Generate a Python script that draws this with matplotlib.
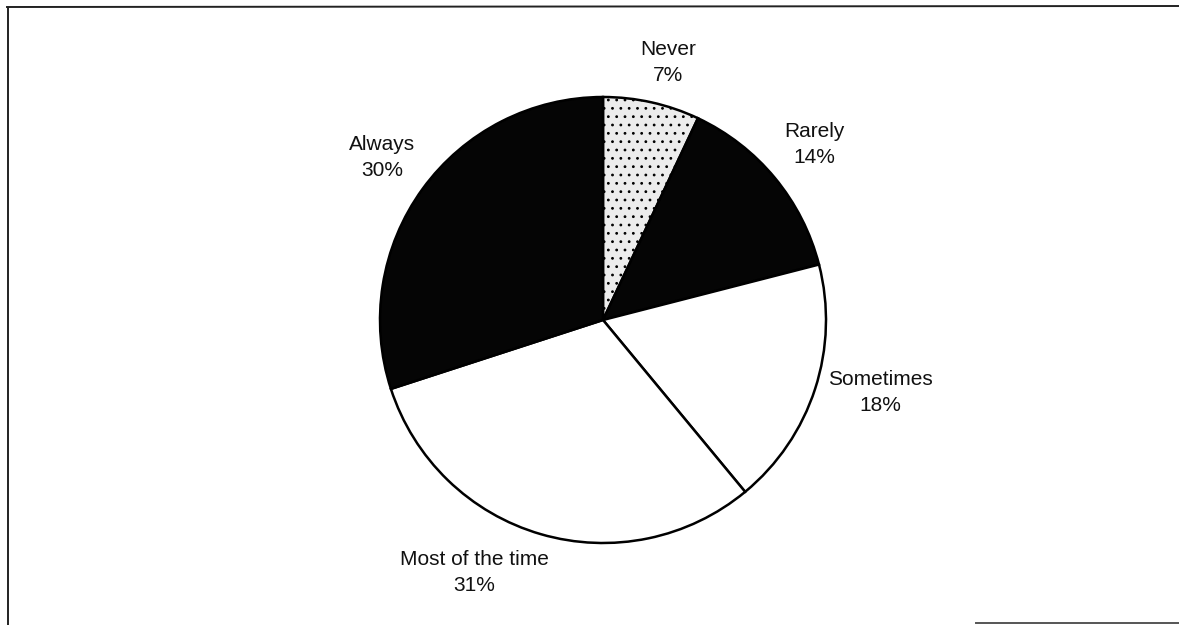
import matplotlib
matplotlib.use("Agg")
import matplotlib.pyplot as plt

# survey answers, clockwise from 12 o'clock
labels = ["Never", "Rarely", "Sometimes", "Most of the time", "Always"]
shares = [7, 14, 18, 31, 30]
colors = ["#ececec", "#050505", "#ffffff", "#ffffff", "#050505"]

# where the labels sit (pie radius = 1)
label_pos = [(0.291, 1.155), (0.946, 0.787), (1.242, -0.325), (-0.578, -1.132), (-0.991, 0.729)]

plt.rcParams["font.family"] = ["Liberation Sans", "DejaVu Sans"]
plt.rcParams["hatch.color"] = "#333333"
plt.rcParams["hatch.linewidth"] = 0.8

W, H = 1179, 625
fig = plt.figure(figsize=(W / 100, H / 100), dpi=100)
ax = fig.add_axes([0, 0, 1, 1])

cx, cy, r = 603, 320, 223

wedges, _ = ax.pie(shares, colors=colors, startangle=90, counterclock=False,
                   radius=1, center=(0, 0), frame=True,
                   wedgeprops=dict(edgecolor="black", linewidth=1.8))
ax.set_xlim(-cx / r, (W - cx) / r)
ax.set_ylim(-(H - cy) / r, cy / r)
ax.set_aspect("auto")
ax.axis("off")
wedges[0].set_hatch("..")

for lab, val, (x, y) in zip(labels, shares, label_pos):
    ax.text(x, y, f"{lab}\n{val}%", ha="center", va="center",
            fontsize=15, linespacing=1.5, color="#111111")

# scanned page frame
fig.add_artist(plt.Line2D([7 / W, 1], [1 - 7 / H, 1 - 6 / H], color="#222222", lw=1.4))
fig.add_artist(plt.Line2D([8 / W, 8 / W], [1 - 8 / H, 0], color="#222222", lw=1.4))
fig.add_artist(plt.Line2D([976 / W, 1], [2 / H, 2 / H], color="#555555", lw=1.4))

fig.savefig("out.png", dpi=100, facecolor="white")
